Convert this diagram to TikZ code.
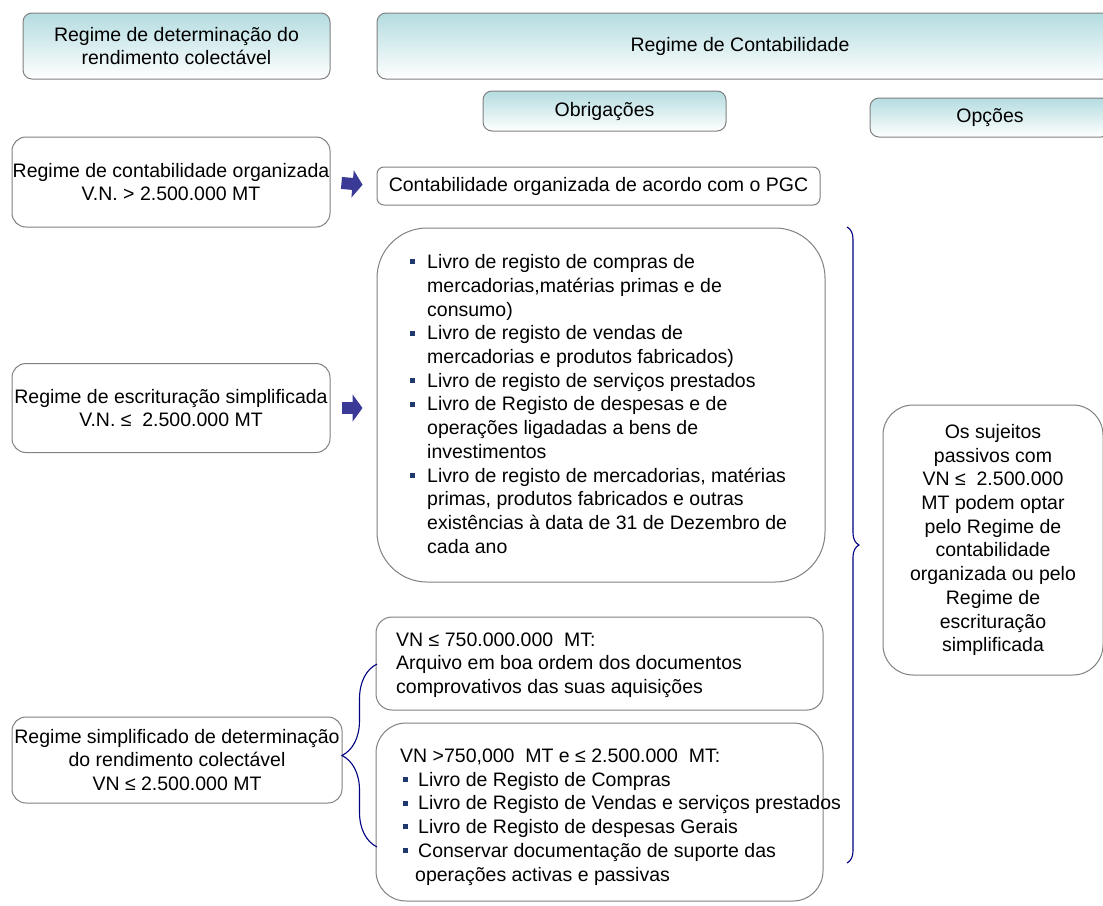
\documentclass[tikz,border=0pt]{standalone}
\usepackage{fontspec}
\setmainfont{Liberation Sans}
\usetikzlibrary{arrows.meta,decorations.pathreplacing}
\definecolor{bordercol}{RGB}{128,128,128}
\definecolor{hdrtop}{RGB}{180,220,224}
\definecolor{arrcol}{RGB}{58,58,150}
\definecolor{bracecol}{RGB}{0,0,128}
\definecolor{bulcol}{RGB}{31,56,110}
\newcommand{\bul}{\textcolor{bulcol}{\rule[0.22em]{5pt}{5pt}}}
\newcommand{\bitem}{\makebox[17pt][l]{\bul}}
\newcommand{\bcont}{\hspace*{17pt}}
\begin{document}
\begin{tikzpicture}[x=1pt,y=-1pt,
  every node/.style={inner sep=0pt, font=\fontsize{19.5}{23.7}\selectfont},
  box/.style={draw=bordercol, line width=1pt, fill=white, rounded corners=14pt},
  hdr/.style={draw=bordercol, line width=1pt, rounded corners=9pt, top color=hdrtop, bottom color=white},
  blockarrow/.style={draw=arrcol, line width=12pt, -{Triangle[length=10pt 0, width=27pt 0]}, shorten <=11pt, shorten >=14pt},
  bracepath/.style={draw=bracecol, line width=1.1pt, decorate},
  ]
\useasboundingbox (0,0) rectangle (1103,905);
\clip (0,0) rectangle (1103,905);

% headers
\node[hdr, minimum width=307pt, minimum height=66pt, align=center] (h1) at (176.5,46)
  {Regime de determinação do\\rendimento colectável};
\node[hdr, minimum width=735pt, minimum height=66pt] (h2) at (744.5,46) {};
\node at (740,46) {Regime de Contabilidade};
\node[hdr, minimum width=243pt, minimum height=40pt] (obr) at (604.5,111) {Obrigações};
\node[hdr, minimum width=240pt, minimum height=39pt] (opc) at (990,117.5) {Opções};

% left column
\node[box, minimum width=318pt, minimum height=90pt, align=center] (b1) at (171,182)
  {Regime de contabilidade organizada\\V.N. > 2.500.000 MT};
\node[box, minimum width=318pt, minimum height=89pt, align=center] (b2) at (171,408)
  {Regime de escrituração simplificada\\V.N. ≤\ \ 2.500.000 MT};
\node[box, minimum width=330pt, minimum height=86pt, align=center] (b3) at (177,760)
  {Regime simplificado de determinação\\do rendimento colectável\\VN ≤ 2.500.000 MT};

% obligations
\node[box, rounded corners=7pt, minimum width=443pt, minimum height=38pt] (c1) at (598.5,186)
  {Contabilidade organizada de acordo com o PGC};
\node[box, rounded corners=50pt, minimum width=448pt, minimum height=354pt] (c2) at (601,405) {};
\node[anchor=west, align=left] (c2t) at (410,404)
  {\bitem Livro de registo de compras de\\
   \bcont mercadorias,matérias primas e de\\
   \bcont consumo)\\
   \bitem Livro de registo de vendas de\\
   \bcont mercadorias e produtos fabricados)\\
   \bitem Livro de registo de serviços prestados\\
   \bitem Livro de Registo de despesas e de\\
   \bcont operações ligadadas a bens de\\
   \bcont investimentos\\
   \bitem Livro de registo de mercadorias, matérias\\
   \bcont primas, produtos fabricados e outras\\
   \bcont existências à data de 31 de Dezembro de\\
   \bcont cada ano};

\node[box, rounded corners=16pt, minimum width=447pt, minimum height=93pt] (v1) at (599.5,663.5) {};
\node[anchor=west, align=left] (v1t) at (396,665)
  {VN ≤ 750.000.000\ \ MT:\\
   Arquivo em boa ordem dos documentos\\
   comprovativos das suas aquisições};
\node[box, rounded corners=30pt, minimum width=447pt, minimum height=178pt] (v2) at (599.5,812) {};
\node[anchor=west, align=left] (v2t) at (400,817)
  {VN >750,000\ \ MT e ≤ 2.500.000\ \ MT:\\
   \hspace*{3pt}\makebox[15pt][l]{\bul}Livro de Registo de Compras\\
   \hspace*{3pt}\makebox[15pt][l]{\bul}Livro de Registo de Vendas e serviços prestados\\
   \hspace*{3pt}\makebox[15pt][l]{\bul}Livro de Registo de despesas Gerais\\
   \hspace*{3pt}\makebox[15pt][l]{\bul}Conservar documentação de suporte das\\
   \hspace*{15pt}operações activas e passivas};

% options
\node[box, rounded corners=30pt, minimum width=220pt, minimum height=270pt, align=center] (opt) at (993,540)
  {Os sujeitos\\passivos com\\VN ≤\ \ 2.500.000\\MT podem optar\\pelo Regime de\\contabilidade\\organizada ou pelo\\Regime de\\escrituração\\simplificada};

% arrows
\draw[blockarrow] (b1.east) -- (c1.west);
\draw[blockarrow] (b2.east) -- (b2.east -| c2.west);

% braces
\coordinate (rbt) at (847,227);
\coordinate (rbb) at (847,863);
\draw[bracepath, decoration={brace, amplitude=12pt}] (rbt) -- (rbb);
\coordinate (lbt) at (377,664);
\coordinate (lbb) at (377,847);
\draw[bracepath, decoration={brace, amplitude=35pt}] (lbb) -- (lbt);
\end{tikzpicture}
\end{document}
